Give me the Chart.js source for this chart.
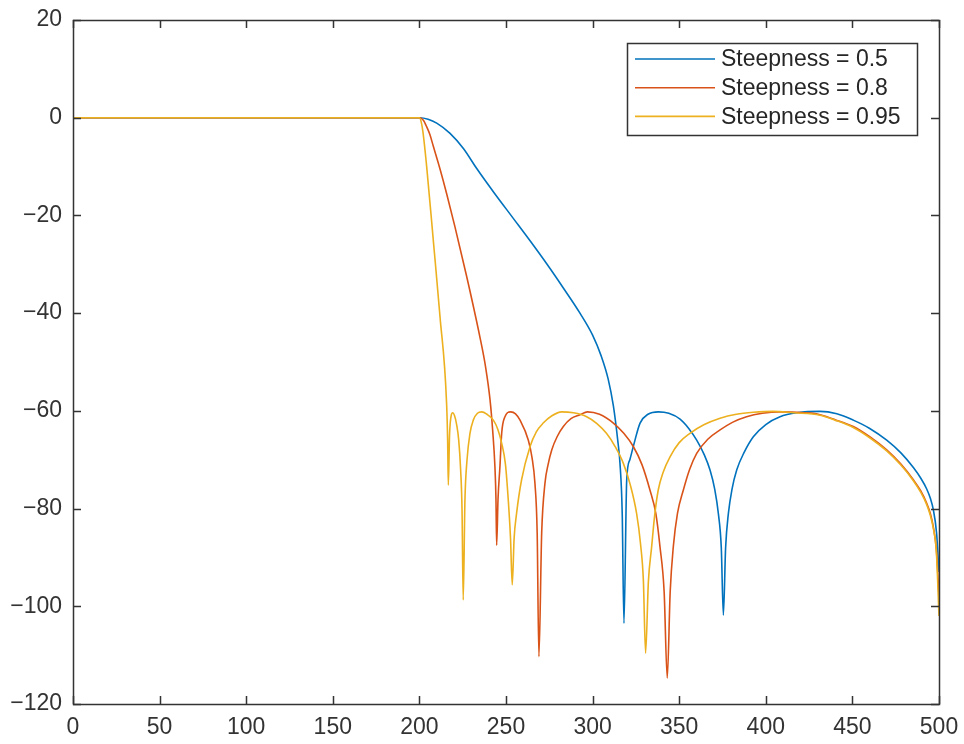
<!DOCTYPE html>
<html>
<head>
<meta charset="utf-8">
<script src="https://cdn.jsdelivr.net/npm/chart.js@4"></script>
<style>
  body { margin: 0; background: #fff; }
  canvas { display: block; }
</style>
</head>
<body>
<canvas id="chart" width="964" height="744"></canvas>
<script>
// Steepness = 0.5
const freq05 = [0, 200, 205, 210, 217.7, 225.4, 233.1, 243, 254.2, 263.9, 273.5, 283, 292.7, 300, 305, 309, 312, 314.5, 315.8, 317.1, 318.1,
  319.7, 321.5, 323.5, 327.4, 332, 338, 344, 350.5, 355.5, 360.1, 364.5, 367.8, 370.5, 372.6, 374.3, 375.5,
  376.8, 378.4, 380.5, 383.2, 387.5, 392.8, 400, 408.2, 418, 431.3, 441, 450.5, 460, 469.8, 478, 485.2, 489.5, 492.9, 495, 496.7, 498.6, 500];
const mag05 = [0, 0, -0.3, -1.1, -3.2, -6.3, -10.4, -15.3, -20.6, -25.2, -29.9, -34.8, -40, -44.5, -48.8, -53.5, -59, -66, -70.7, -81, -103.5,
  -74.1, -70, -67.3, -62.5, -60.7, -60.2, -60.5, -61.7, -63.6, -66, -69, -72.1, -76, -81, -88, -101.8,
  -88, -81, -76, -72.1, -68.5, -65.3, -62.8, -61.2, -60.4, -60.1, -60.6, -61.9, -63.6, -66, -68.6, -71.6, -73.8, -76, -77.9, -80.2, -85, -93];

// Steepness = 0.8
const freq08 = [0, 200, 202.3, 204, 206.1, 208, 211.9, 215.7, 220.5, 227.3, 235, 238.2, 240.8, 242.3, 243.6, 244.2, 244.6,
  245.4, 246.5, 247.5, 249.4, 252.7, 255.5, 258.1, 262.9, 265, 266.7, 268, 269,
  270.6, 272.5, 274.3, 276.4, 279.5, 283.1, 287.5, 292.7, 297, 304, 312, 318, 323.5, 328.5, 333.1, 336.5, 338.9, 341.3, 343.1,
  344.8, 346.6, 349, 352.4, 356, 360.1, 366.5, 373.6, 381, 388.9, 398, 408, 418, 427.4, 431.3, 440, 450.5, 460, 469.8, 478, 485.2, 489.5, 492.9, 495, 496.7, 498.5, 500];
const mag08 = [0, 0, -0.5, -1.7, -3.5, -5.8, -10.5, -15.5, -22.3, -32.5, -45, -51, -57.8, -64, -71.4, -78, -87.5,
  -78, -71.4, -64.6, -61.2, -60.2, -60.6, -61.9, -66, -69.5, -74.8, -85, -110.3,
  -85, -74.8, -71, -68, -65.3, -63.2, -61.6, -60.8, -60.2, -60.7, -62.5, -64.6, -67.3, -71, -76.2, -81, -87.8, -97, -114.7,
  -97, -87.8, -81, -76.2, -72, -68.7, -65.8, -63.9, -62.3, -61.2, -60.5, -60.2, -60.3, -60.5, -60.8, -61.8, -63.2, -65.3, -68, -70.9, -74.1, -76.4, -78.9, -81, -83.7, -88.5, -98];

// Steepness = 0.95
const freq095 = [0, 200, 201, 202, 204.2, 208, 211.9, 215.7, 216.3, 216.7,
  217.4, 218.2, 219.2, 220.3, 221.5, 222.7, 223.8, 224.6, 225.3,
  226.3, 227.5, 229.2, 231.1, 233.5, 236, 239, 242.7, 245.3, 247.5, 249.7, 251.3, 252.6, 253.6,
  254.7, 256.1, 259, 263.9, 267.5, 271.5, 276.5, 282.1, 289, 296.6, 302.5, 308, 313, 317.7, 321.8, 325.4, 327.6, 329.3, 330.6,
  332.2, 334.1, 335.8, 337.9, 340.8, 344.7, 350, 356.2, 364.5, 373.6, 383, 392.8, 404, 416, 431.3, 440, 450.5, 460, 469.8, 478, 485.2, 489.5, 492.9, 495, 496.7, 498.5, 500];
const mag095 = [0, 0, -0.8, -2.8, -10, -25, -40.7, -58.5, -66, -75.2,
  -65, -61.3, -60.4, -61, -62.8, -66, -72, -80, -98.7,
  -78.2, -70, -64.6, -61.9, -60.5, -60.2, -60.7, -61.9, -63.8, -66.6, -71, -78.2, -86, -95.6,
  -86, -81, -74.1, -67.3, -64.3, -62.5, -61, -60.2, -60.4, -61.2, -62.6, -64.6, -67.3, -70.7, -75.2, -81, -87, -94.6, -109.6,
  -95, -87.8, -81.5, -76.2, -72.5, -69.4, -66.5, -64.6, -62.8, -61.5, -60.7, -60.3, -60.1, -60.4, -60.9, -61.9, -63.4, -65.5, -68.2, -71.1, -74.3, -76.7, -79.2, -81.4, -84, -89, -102];

const seriesLabels = ["Steepness = 0.5", "Steepness = 0.8", "Steepness = 0.95"];
const xTicks = [0, 50, 100, 150, 200, 250, 300, 350, 400, 450, 500];
const yTicks = [20, 0, -20, -40, -60, -80, -100, -120];

const colors = ["#0072BD", "#D95319", "#EDB120"];
const axisColor = "#333333";
const font = { family: "'Liberation Sans', Arial, sans-serif", size: 23 };

function points(xs, ys) {
  return xs.map((x, i) => ({ x: x, y: ys[i] }));
}

function series(i, xs, ys) {
  return {
    label: seriesLabels[i],
    data: points(xs, ys),
    borderColor: colors[i],
    borderWidth: 1.6,
    pointRadius: 0,
    fill: false,
    cubicInterpolationMode: "monotone",
    order: 3 - i
  };
}

// box, inward ticks on all four sides, and the legend
const frame = {
  id: "frame",
  afterDatasetsDraw(chart) {
    const ctx = chart.ctx;
    const a = chart.chartArea;
    const xs = chart.scales.x;
    const ys = chart.scales.y;
    const tl = 8;

    ctx.save();
    ctx.strokeStyle = axisColor;
    ctx.lineWidth = 1.5;
    ctx.beginPath();
    xTicks.forEach(v => {
      const px = Math.round(xs.getPixelForValue(v)) + 0.5;
      ctx.moveTo(px, a.bottom); ctx.lineTo(px, a.bottom - tl);
      ctx.moveTo(px, a.top); ctx.lineTo(px, a.top + tl);
    });
    yTicks.forEach(v => {
      const py = Math.round(ys.getPixelForValue(v)) + 0.5;
      ctx.moveTo(a.left, py); ctx.lineTo(a.left + tl, py);
      ctx.moveTo(a.right, py); ctx.lineTo(a.right - tl, py);
    });
    ctx.stroke();
    ctx.strokeRect(Math.round(a.left) + 0.5, Math.round(a.top) + 0.5, Math.round(a.width), Math.round(a.height));

    // legend
    const lx = a.right - 312, ly = a.top + 23, lw = 290, lh = 92;
    ctx.fillStyle = "#fff";
    ctx.fillRect(lx, ly, lw, lh);
    ctx.strokeRect(Math.round(lx) + 0.5, Math.round(ly) + 0.5, lw, lh);
    ctx.font = font.size + "px " + font.family;
    ctx.textBaseline = "middle";
    ctx.textAlign = "left";
    chart.data.datasets.forEach((ds, i) => {
      const y = ly + 16 + i * 28.7;
      ctx.strokeStyle = ds.borderColor;
      ctx.lineWidth = 1.6;
      ctx.beginPath();
      ctx.moveTo(lx + 8, y); ctx.lineTo(lx + 88, y);
      ctx.stroke();
      ctx.fillStyle = "#262626";
      ctx.fillText(ds.label, lx + 94, y + 1);
    });
    ctx.restore();
  }
};

const minus = v => String(v).replace("-", "\u2212");

new Chart(document.getElementById("chart"), {
  type: "line",
  data: {
    datasets: [
      series(0, freq05, mag05),
      series(1, freq08, mag08),
      series(2, freq095, mag095)
    ]
  },
  options: {
    responsive: false,
    animation: false,
    devicePixelRatio: 1,
    layout: { padding: { top: 20, right: 25, left: 0, bottom: 0 } },
    plugins: { legend: { display: false }, tooltip: { enabled: false } },
    scales: {
      x: {
        type: "linear",
        min: 0,
        max: 500,
        afterBuildTicks: s => { s.ticks = xTicks.map(v => ({ value: v })); },
        afterFit: s => { s.height = 40; s.paddingLeft = 0; s.paddingRight = 0; },
        grid: { display: false, drawTicks: false },
        border: { display: false },
        ticks: { autoSkip: false, maxRotation: 0, padding: 10, color: axisColor, font: font, callback: minus }
      },
      y: {
        type: "linear",
        min: -120,
        max: 20,
        afterBuildTicks: s => { s.ticks = yTicks.map(v => ({ value: v })); },
        afterFit: s => { s.width = 73; s.paddingTop = 0; s.paddingBottom = 0; },
        grid: { display: false, drawTicks: false },
        border: { display: false },
        ticks: { autoSkip: false, padding: 11, color: axisColor, font: font, callback: minus }
      }
    }
  },
  plugins: [frame]
});
</script>
</body>
</html>
